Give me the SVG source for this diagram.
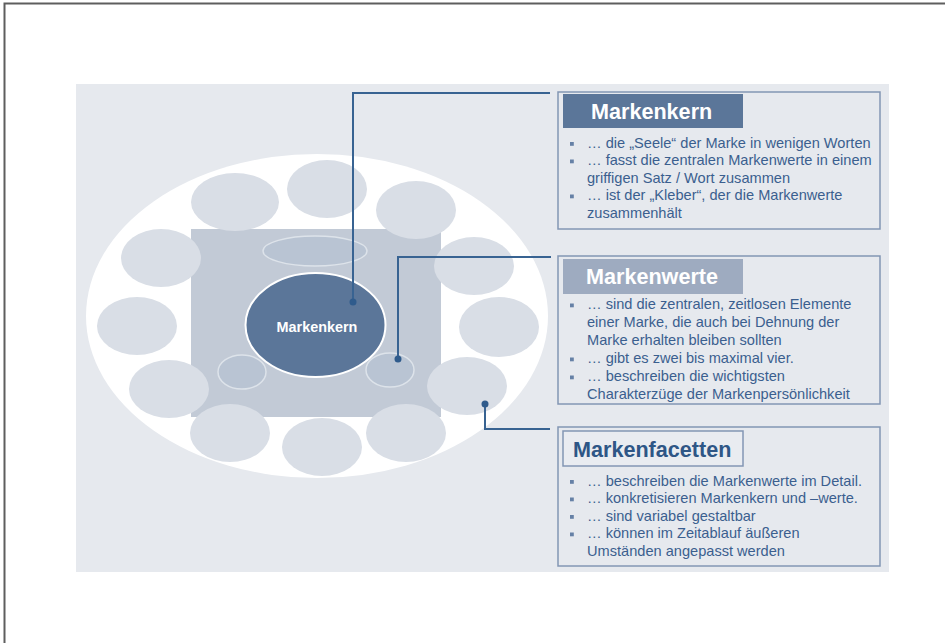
<svg xmlns="http://www.w3.org/2000/svg" width="945" height="643" viewBox="0 0 945 643">
  <style>
    .facet { fill: #d9dee6; }
    .inner { fill: #b9c4d3; stroke: #dde3ea; stroke-width: 1.5; }
    .box { fill: none; stroke: #8396b4; stroke-width: 1.5; }
    .title { font-family: "Liberation Sans", Arial, sans-serif; font-weight: bold; font-size: 21.6px; }
    .body { font-family: "Liberation Sans", Arial, sans-serif; font-size: 14.6px; fill: #3b5f8f; }
    .bullet { fill: #6681a6; }
    .conn { fill: none; stroke: #386392; stroke-width: 2; }
    .dot { fill: #2f5b8c; }
  </style>

  <!-- frame -->
  <path d="M4.5,643 V3.5 H945" fill="none" stroke="#5e5e5e" stroke-width="2"/>

  <!-- panel background -->
  <rect x="76" y="84" width="813" height="488" fill="#e6e9ee"/>

  <!-- brand model graphic -->
  <g id="model">
    <ellipse cx="317" cy="316" rx="231" ry="162" fill="#ffffff"/>
    <rect x="191" y="229" width="250" height="188" fill="#c2cad6"/>
    <g id="facets">
      <ellipse class="facet" cx="327" cy="189" rx="40" ry="29"/>
      <ellipse class="facet" cx="235" cy="202" rx="44" ry="29"/>
      <ellipse class="facet" cx="416" cy="210" rx="40" ry="29"/>
      <ellipse class="facet" cx="161" cy="258" rx="40" ry="29"/>
      <ellipse class="facet" cx="474" cy="266" rx="40" ry="29"/>
      <ellipse class="facet" cx="137" cy="326" rx="40" ry="29"/>
      <ellipse class="facet" cx="499" cy="327" rx="40" ry="30"/>
      <ellipse class="facet" cx="169" cy="389" rx="40" ry="29"/>
      <ellipse class="facet" cx="467" cy="386" rx="40" ry="29"/>
      <ellipse class="facet" cx="230" cy="433" rx="40" ry="29"/>
      <ellipse class="facet" cx="322" cy="447" rx="40" ry="29"/>
      <ellipse class="facet" cx="406" cy="433" rx="40" ry="29"/>
    </g>
    <g id="values">
      <ellipse class="inner" cx="315" cy="251" rx="52" ry="15"/>
      <ellipse class="inner" cx="242" cy="372" rx="24" ry="17"/>
      <ellipse class="inner" cx="390" cy="370" rx="24" ry="17"/>
    </g>
    <g id="core">
      <ellipse cx="315.5" cy="325" rx="70" ry="52" fill="#5b7699" stroke="#ffffff" stroke-width="2"/>
      <text x="317" y="332" text-anchor="middle" font-family="Liberation Sans, Arial, sans-serif" font-weight="bold" font-size="14.4" fill="#ffffff">Markenkern</text>
    </g>
  </g>

  <!-- connectors -->
  <g id="connectors">
    <path class="conn" d="M353,302 V93 H550"/>
    <circle class="dot" cx="353" cy="302" r="3.5"/>
    <path class="conn" d="M398,359 V257 H551"/>
    <circle class="dot" cx="398" cy="359" r="3.5"/>
    <path class="conn" d="M485,404 V429 H550"/>
    <circle class="dot" cx="485" cy="404" r="3.5"/>
  </g>

  <!-- Markenkern box -->
  <g id="box-markenkern">
    <rect class="box" x="558" y="92" width="322" height="137"/>
    <rect x="563" y="94" width="180" height="34" fill="#5b7699"/>
    <text class="title" x="591" y="119" fill="#ffffff">Markenkern</text>
    <rect class="bullet" x="570" y="142" width="3.8" height="3.8"/>
    <text class="body" x="587" y="147.5">… die „Seele“ der Marke in wenigen Worten</text>
    <rect class="bullet" x="570" y="159.5" width="3.8" height="3.8"/>
    <text class="body" x="587" y="165">… fasst die zentralen Markenwerte in einem</text>
    <text class="body" x="587" y="182.5">griffigen Satz / Wort zusammen</text>
    <rect class="bullet" x="570" y="194.5" width="3.8" height="3.8"/>
    <text class="body" x="587" y="200">… ist der „Kleber“, der die Markenwerte</text>
    <text class="body" x="587" y="217.5">zusammenhält</text>
  </g>

  <!-- Markenwerte box -->
  <g id="box-markenwerte">
    <rect class="box" x="558" y="256" width="322" height="148"/>
    <rect x="563" y="259" width="180" height="35" fill="#9eabc0"/>
    <text class="title" x="586" y="284" fill="#ffffff">Markenwerte</text>
    <rect class="bullet" x="570" y="303.5" width="3.8" height="3.8"/>
    <text class="body" x="587" y="309">… sind die zentralen, zeitlosen Elemente</text>
    <text class="body" x="587" y="327">einer Marke, die auch bei Dehnung der</text>
    <text class="body" x="587" y="345">Marke erhalten bleiben sollten</text>
    <rect class="bullet" x="570" y="357.5" width="3.8" height="3.8"/>
    <text class="body" x="587" y="363">… gibt es zwei bis maximal vier.</text>
    <rect class="bullet" x="570" y="375.5" width="3.8" height="3.8"/>
    <text class="body" x="587" y="381">… beschreiben die wichtigsten</text>
    <text class="body" x="587" y="399">Charakterzüge der Markenpersönlichkeit</text>
  </g>

  <!-- Markenfacetten box -->
  <g id="box-markenfacetten">
    <rect class="box" x="558" y="427" width="322" height="139"/>
    <rect x="563" y="431" width="180" height="35" fill="#e9ecf1" stroke="#8396b4" stroke-width="1.5"/>
    <text class="title" x="573" y="457" fill="#2e5686">Markenfacetten</text>
    <rect class="bullet" x="570" y="480" width="3.8" height="3.8"/>
    <text class="body" x="587" y="485.5">… beschreiben die Markenwerte im Detail.</text>
    <rect class="bullet" x="570" y="497.5" width="3.8" height="3.8"/>
    <text class="body" x="587" y="503">… konkretisieren Markenkern und –werte.</text>
    <rect class="bullet" x="570" y="515" width="3.8" height="3.8"/>
    <text class="body" x="587" y="520.5">… sind variabel gestaltbar</text>
    <rect class="bullet" x="570" y="532.5" width="3.8" height="3.8"/>
    <text class="body" x="587" y="538">… können im Zeitablauf äußeren</text>
    <text class="body" x="587" y="555.5">Umständen angepasst werden</text>
  </g>
</svg>
